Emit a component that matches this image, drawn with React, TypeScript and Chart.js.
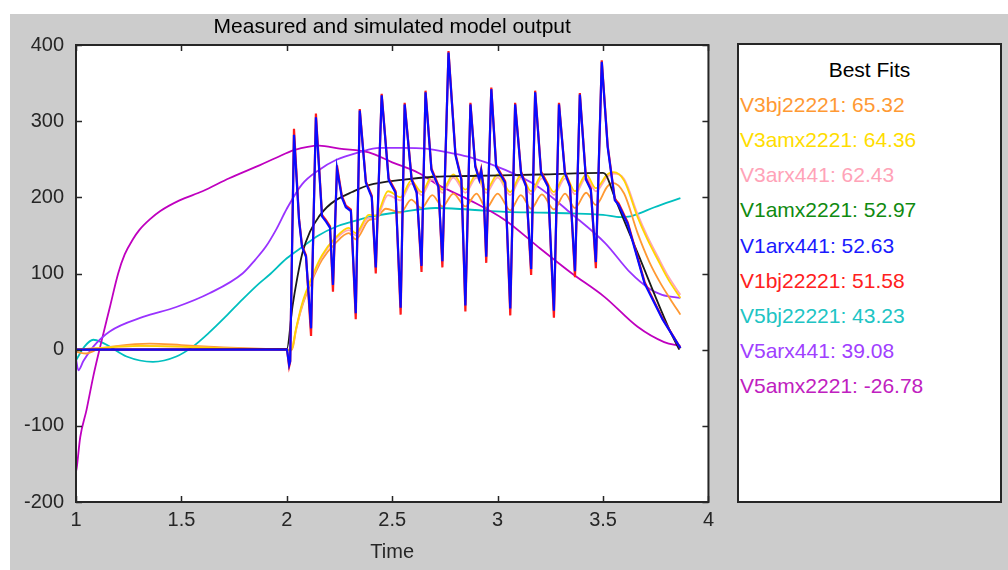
import React, { useEffect, useRef } from 'react';
import { Chart, registerables } from 'chart.js';

Chart.register(...registerables);

const FONT = '"Liberation Sans", Arial, Helvetica, sans-serif';

const chartTitle = 'Measured and simulated model output';
const xAxisLabel = 'Time';
const xTicks = [1, 1.5, 2, 2.5, 3, 3.5, 4];
const yTicks = [-200, -100, 0, 100, 200, 300, 400];

const legendTitle = 'Best Fits';
const legendNames = [
  'V3bj22221: 65.32',
  'V3amx2221: 64.36',
  'V3arx441: 62.43',
  'V1amx2221: 52.97',
  'V1arx441: 52.63',
  'V1bj22221: 51.58',
  'V5bj22221: 43.23',
  'V5arx441: 39.08',
  'V5amx2221: -26.78',
];
const legendColors = ['#ff9933', '#ffdd00', '#ffa3b8', '#108a10', '#1a1aff', '#ff2020', '#20c4c4', '#a040ff', '#c020c0'];

// V1 models (blue / red / green) share a time grid
const v1Time = [1.0, 1.99, 2.001, 2.011, 2.016, 2.034, 2.058, 2.072, 2.091, 2.115,
  2.138, 2.167, 2.186, 2.205, 2.219,
  2.238, 2.261, 2.28, 2.304, 2.327,
  2.346, 2.375, 2.403, 2.422,
  2.45, 2.483, 2.516, 2.54,
  2.559, 2.592, 2.616, 2.639,
  2.658, 2.686, 2.719, 2.738,
  2.767, 2.8, 2.828, 2.847,
  2.871, 2.894, 2.913, 2.922, 2.932, 2.946,
  2.97, 2.993, 3.036, 3.06,
  3.083, 3.111, 3.135, 3.159,
  3.178, 3.206, 3.239, 3.267,
  3.291, 3.319, 3.343, 3.367,
  3.39, 3.419, 3.442, 3.466,
  3.494, 3.522, 3.556, 3.574, 3.617, 3.697, 3.782, 3.867];
const v1arx441 = [0, 0, 0, -20, -15, 282, 170, 135, 122, 28,
  305, 175, 168, 160, 85,
  238, 200, 187, 182, 48,
  314, 219, 200, 108,
  334, 223, 206, 55,
  322, 223, 206, 110,
  338, 236, 214, 116,
  390, 255, 223, 58,
  322, 240, 223, 235, 215, 122,
  342, 240, 219, 54,
  322, 232, 214, 106,
  338, 232, 214, 51,
  322, 232, 214, 103,
  335, 223, 210, 115,
  378, 266, 196, 190, 165, 87, 40, 2];
const v1bj22221 = [0, 0, 0, -22, -16, 290, 172, 137, 124, 18,
  310, 177, 170, 162, 76,
  242, 202, 189, 184, 40,
  316, 221, 202, 100,
  336, 225, 208, 46,
  324, 225, 208, 102,
  340, 238, 216, 108,
  392, 257, 225, 50,
  324, 242, 225, 237, 217, 114,
  344, 242, 221, 45,
  324, 234, 216, 98,
  340, 234, 216, 42,
  324, 234, 216, 95,
  337, 225, 212, 107,
  380, 268, 198, 192, 167, 89, 41, 2];
const v1amx2221 = [0, 0, 0, -20, -15, 282, 170, 135, 122, 28,
  305, 175, 168, 160, 85,
  238, 200, 187, 182, 48,
  314, 219, 200, 108,
  334, 223, 206, 55,
  322, 223, 206, 110,
  338, 236, 214, 116,
  390, 255, 223, 58,
  322, 240, 223, 235, 215, 122,
  342, 240, 219, 54,
  322, 232, 214, 106,
  338, 232, 214, 51,
  322, 232, 214, 103,
  335, 223, 210, 115,
  378, 266, 196, 190, 165, 87, 40, 2];

// measured output (black)
const measuredTime = [1.0, 2.0, 2.027, 2.05, 2.074, 2.11, 2.153, 2.19, 2.231, 2.31, 2.389, 2.546, 2.704, 2.861, 3.2, 3.5, 3.515, 3.554, 3.664, 3.822, 3.862];
const measured = [0, 1, 57, 95, 127, 155, 175, 187, 196, 207, 216, 223, 227, 228, 230, 232, 229, 201, 127, 22, 0];

// V3 models (yellow / pink)
const v3Time = [1.0, 1.1, 1.3, 1.5, 1.8, 2.0, 2.02, 2.044, 2.072, 2.12,
  2.167, 2.231, 2.294, 2.327, 2.389, 2.422, 2.48, 2.54, 2.59, 2.639,
  2.69, 2.738, 2.79, 2.847, 2.9, 2.946, 3.0, 3.06, 3.11, 3.159,
  3.21, 3.267, 3.32, 3.367, 3.42, 3.466, 3.52, 3.55, 3.6, 3.664,
  3.71, 3.76, 3.81, 3.867];
const v3amx2221 = [0, 2, 5, 4, 1, 0, -1, 28, 60, 96,
  124, 147, 160, 153, 177, 176, 208, 200, 222, 207,
  228, 210, 230, 210, 230, 210, 230, 207, 229, 208,
  229, 207, 229, 208, 230, 212, 230, 233, 222, 174,
  145, 118, 92, 68];
const v3arx441 = [0, 2, 5, 4, 1, 0, -1, 27, 58, 94,
  122, 145, 157, 150, 173, 172, 203, 196, 218, 203,
  224, 206, 226, 206, 226, 206, 226, 203, 225, 204,
  225, 203, 225, 204, 226, 208, 227, 231, 224, 178,
  149, 122, 96, 72];

// V3bj (orange)
const v3bjTime = [1.0, 1.05, 1.1, 1.2, 1.35, 1.5, 1.7, 1.9, 2.0, 2.025,
  2.044, 2.072, 2.12, 2.167, 2.231, 2.294, 2.327, 2.389, 2.422, 2.47,
  2.54, 2.59, 2.639, 2.69, 2.738, 2.79, 2.847, 2.9, 2.946, 3.0,
  3.06, 3.11, 3.159, 3.21, 3.267, 3.32, 3.367, 3.42, 3.466, 3.52,
  3.545, 3.6, 3.664, 3.72, 3.773, 3.82, 3.867];
const v3bj22221 = [-3, -5, 0, 5, 8, 6, 3, 1, 0, 0,
  26, 56, 91, 118, 140, 153, 145, 170, 172, 185,
  180, 197, 186, 203, 188, 205, 188, 205, 186, 205,
  183, 203, 185, 204, 184, 205, 186, 206, 190, 214,
  219, 205, 153, 115, 87, 66, 46];

// V5bj (cyan)
const v5bjTime = [1.0, 1.04, 1.082, 1.12, 1.16, 1.24, 1.365, 1.476, 1.554, 1.63,
  1.712, 1.79, 1.869, 1.916, 2.0, 2.074, 2.15, 2.231, 2.31, 2.389,
  2.546, 2.704, 2.861, 3.036, 3.2, 3.348, 3.5, 3.584, 3.63, 3.664, 3.744, 3.867];
const v5bj22221 = [-14, 4, 13, 10, 4, -9, -16, -9, 4, 22,
  44, 66, 87, 98, 120, 135, 150, 161, 168, 174,
  181, 186, 184, 181, 180, 179, 177, 174, 175, 178, 187, 199];

// V5arx (purple)
const v5arxTime = [1.0, 1.011, 1.035, 1.082, 1.16, 1.318, 1.476, 1.633, 1.79, 1.85,
  1.9, 1.95, 2.0, 2.072, 2.153, 2.233, 2.342, 2.44, 2.55, 2.66,
  2.78, 2.875, 3.036, 3.192, 3.348, 3.51, 3.63, 3.72, 3.78, 3.867];
const v5arx441 = [-12, -27, -15, 4, 24, 43, 56, 74, 100, 118,
  135, 158, 185, 217, 236, 249, 259, 265, 265, 264,
  258, 252, 236, 214, 179, 140, 101, 80, 72, 68];

// V5amx (magenta)
const v5amxTime = [1.0, 1.003, 1.02, 1.05, 1.082, 1.113, 1.16, 1.2, 1.231, 1.27,
  1.3, 1.35, 1.4, 1.491, 1.6, 1.727, 1.87, 1.95, 2.034, 2.153,
  2.25, 2.389, 2.5, 2.625, 2.72, 2.87, 3.036, 3.192, 3.348, 3.508,
  3.664, 3.79, 3.867];
const v5amx2221 = [-160, -156, -115, -79, -35, 2, 55, 100, 125, 145,
  157, 171, 182, 196, 208, 225, 242, 252, 262, 268,
  264, 259, 246, 232, 216, 196, 170, 135, 101, 69,
  30, 10, 5];

const pts = (t: number[], v: number[]) => t.map((x, i) => ({ x, y: v[i] }));

const framePlugin = {
  id: 'matlabFrame',
  beforeDatasetsDraw(chart: any) {
    const { ctx, chartArea: a } = chart;
    ctx.save();
    ctx.fillStyle = '#ffffff';
    ctx.fillRect(a.left, a.top, a.right - a.left, a.bottom - a.top);
    ctx.restore();
  },
  afterDraw(chart: any) {
    const { ctx, chartArea: a, scales } = chart;
    ctx.save();
    ctx.strokeStyle = '#262626';
    ctx.lineWidth = 1.5;
    const L = 6;
    ctx.beginPath();
    for (const v of xTicks) {
      const px = Math.round(scales.x.getPixelForValue(v)) + 0.5;
      ctx.moveTo(px, a.bottom); ctx.lineTo(px, a.bottom - L);
      ctx.moveTo(px, a.top); ctx.lineTo(px, a.top + L);
    }
    for (const v of yTicks) {
      const py = Math.round(scales.y.getPixelForValue(v)) + 0.5;
      ctx.moveTo(a.left, py); ctx.lineTo(a.left + L, py);
      ctx.moveTo(a.right, py); ctx.lineTo(a.right - L, py);
    }
    ctx.stroke();
    ctx.lineWidth = 2;
    ctx.strokeRect(a.left, a.top, a.right - a.left, a.bottom - a.top);
    ctx.restore();
  },
};

export default function App() {
  const ref = useRef<HTMLCanvasElement>(null);

  useEffect(() => {
    const line = (label: string, t: number[], v: number[], color: string, smooth: boolean, width = 1.8) => ({
      label,
      data: pts(t, v),
      borderColor: color,
      backgroundColor: color,
      borderWidth: width,
      pointRadius: 0,
      fill: false,
      tension: smooth ? 0.4 : 0,
      cubicInterpolationMode: smooth ? ('monotone' as const) : ('default' as const),
    });
    const chart = new Chart(ref.current as HTMLCanvasElement, {
      type: 'line',
      data: {
        datasets: [
          line('V1arx441', v1Time, v1arx441, '#0a0aff', false, 2.2),
          line('V1bj22221', v1Time, v1bj22221, '#ff1a1a', false, 2.2),
          line('V1amx2221', v1Time, v1amx2221, '#008000', false, 1),
          line('Measured', measuredTime, measured, '#1a1a1a', true),
          line('V3amx2221', v3Time, v3amx2221, '#ffd400', true),
          line('V3arx441', v3Time, v3arx441, '#ffa3b8', true),
          line('V3bj22221', v3bjTime, v3bj22221, '#ff9933', true),
          line('V5arx441', v5arxTime, v5arx441, '#9933ff', true),
          line('V5amx2221', v5amxTime, v5amx2221, '#bf00bf', true),
          line('V5bj22221', v5bjTime, v5bj22221, '#00bfbf', true),
        ],
      },
      options: {
        animation: false,
        responsive: false,
        maintainAspectRatio: false,
        parsing: false as any,
        layout: { padding: { left: 0, right: 9, top: 0, bottom: 0 } },
        plugins: {
          legend: { display: false },
          tooltip: { enabled: false },
          title: {
            display: true,
            text: chartTitle,
            fullSize: false,
            color: '#000000',
            font: { family: FONT, size: 21, weight: 'normal' },
            padding: { top: 15, bottom: 4.8 },
          },
        },
        scales: {
          x: {
            type: 'linear',
            min: 1,
            max: 4,
            afterBuildTicks: (s: any) => { s.ticks = xTicks.map((value) => ({ value })); },
            afterFit: (s: any) => { s.height = 68; },
            grid: { display: false, drawTicks: false },
            border: { display: false },
            ticks: {
              color: '#262626',
              font: { family: FONT, size: 20 },
              padding: 6,
              maxRotation: 0,
              autoSkip: false,
              callback: (v: any) => String(v),
            },
            title: {
              display: true,
              text: xAxisLabel,
              color: '#262626',
              font: { family: FONT, size: 20 },
              padding: { top: 0, bottom: 6 },
            },
          },
          y: {
            type: 'linear',
            min: -200,
            max: 400,
            afterBuildTicks: (s: any) => { s.ticks = yTicks.map((value) => ({ value })); },
            afterFit: (s: any) => { s.width = 76; },
            grid: { display: false, drawTicks: false },
            border: { display: false },
            ticks: {
              color: '#262626',
              font: { family: FONT, size: 20 },
              padding: 12,
              autoSkip: false,
              callback: (v: any) => String(v),
            },
          },
        },
      },
      plugins: [framePlugin],
    });
    return () => chart.destroy();
  }, []);

  return (
    <div style={{ position: 'absolute', left: 0, top: 0, width: 1008, height: 570, background: '#ffffff', overflow: 'hidden', fontFamily: FONT }}>
      <div style={{ position: 'absolute', left: 10, top: 14, width: 998, height: 556, background: '#cccccc' }} />
      <canvas ref={ref} width={720} height={570} style={{ position: 'absolute', left: 0, top: 0, width: 720, height: 570 }} />
      <div style={{ position: 'absolute', left: 737, top: 43, width: 265, height: 460, boxSizing: 'border-box', border: '2px solid #262626', background: '#ffffff' }} />
      <div style={{ position: 'absolute', left: 738, top: 69 - 12.5, width: 263, textAlign: 'center', fontSize: 21, lineHeight: '25px', color: '#000000', whiteSpace: 'nowrap' }}>{legendTitle}</div>
      {legendNames.map((name, i) => (
        <div key={name} style={{ position: 'absolute', left: 740, top: 104.2 + i * 35.2 - 12.5, fontSize: 21, lineHeight: '25px', color: legendColors[i], whiteSpace: 'nowrap' }}>{name}</div>
      ))}
    </div>
  );
}
